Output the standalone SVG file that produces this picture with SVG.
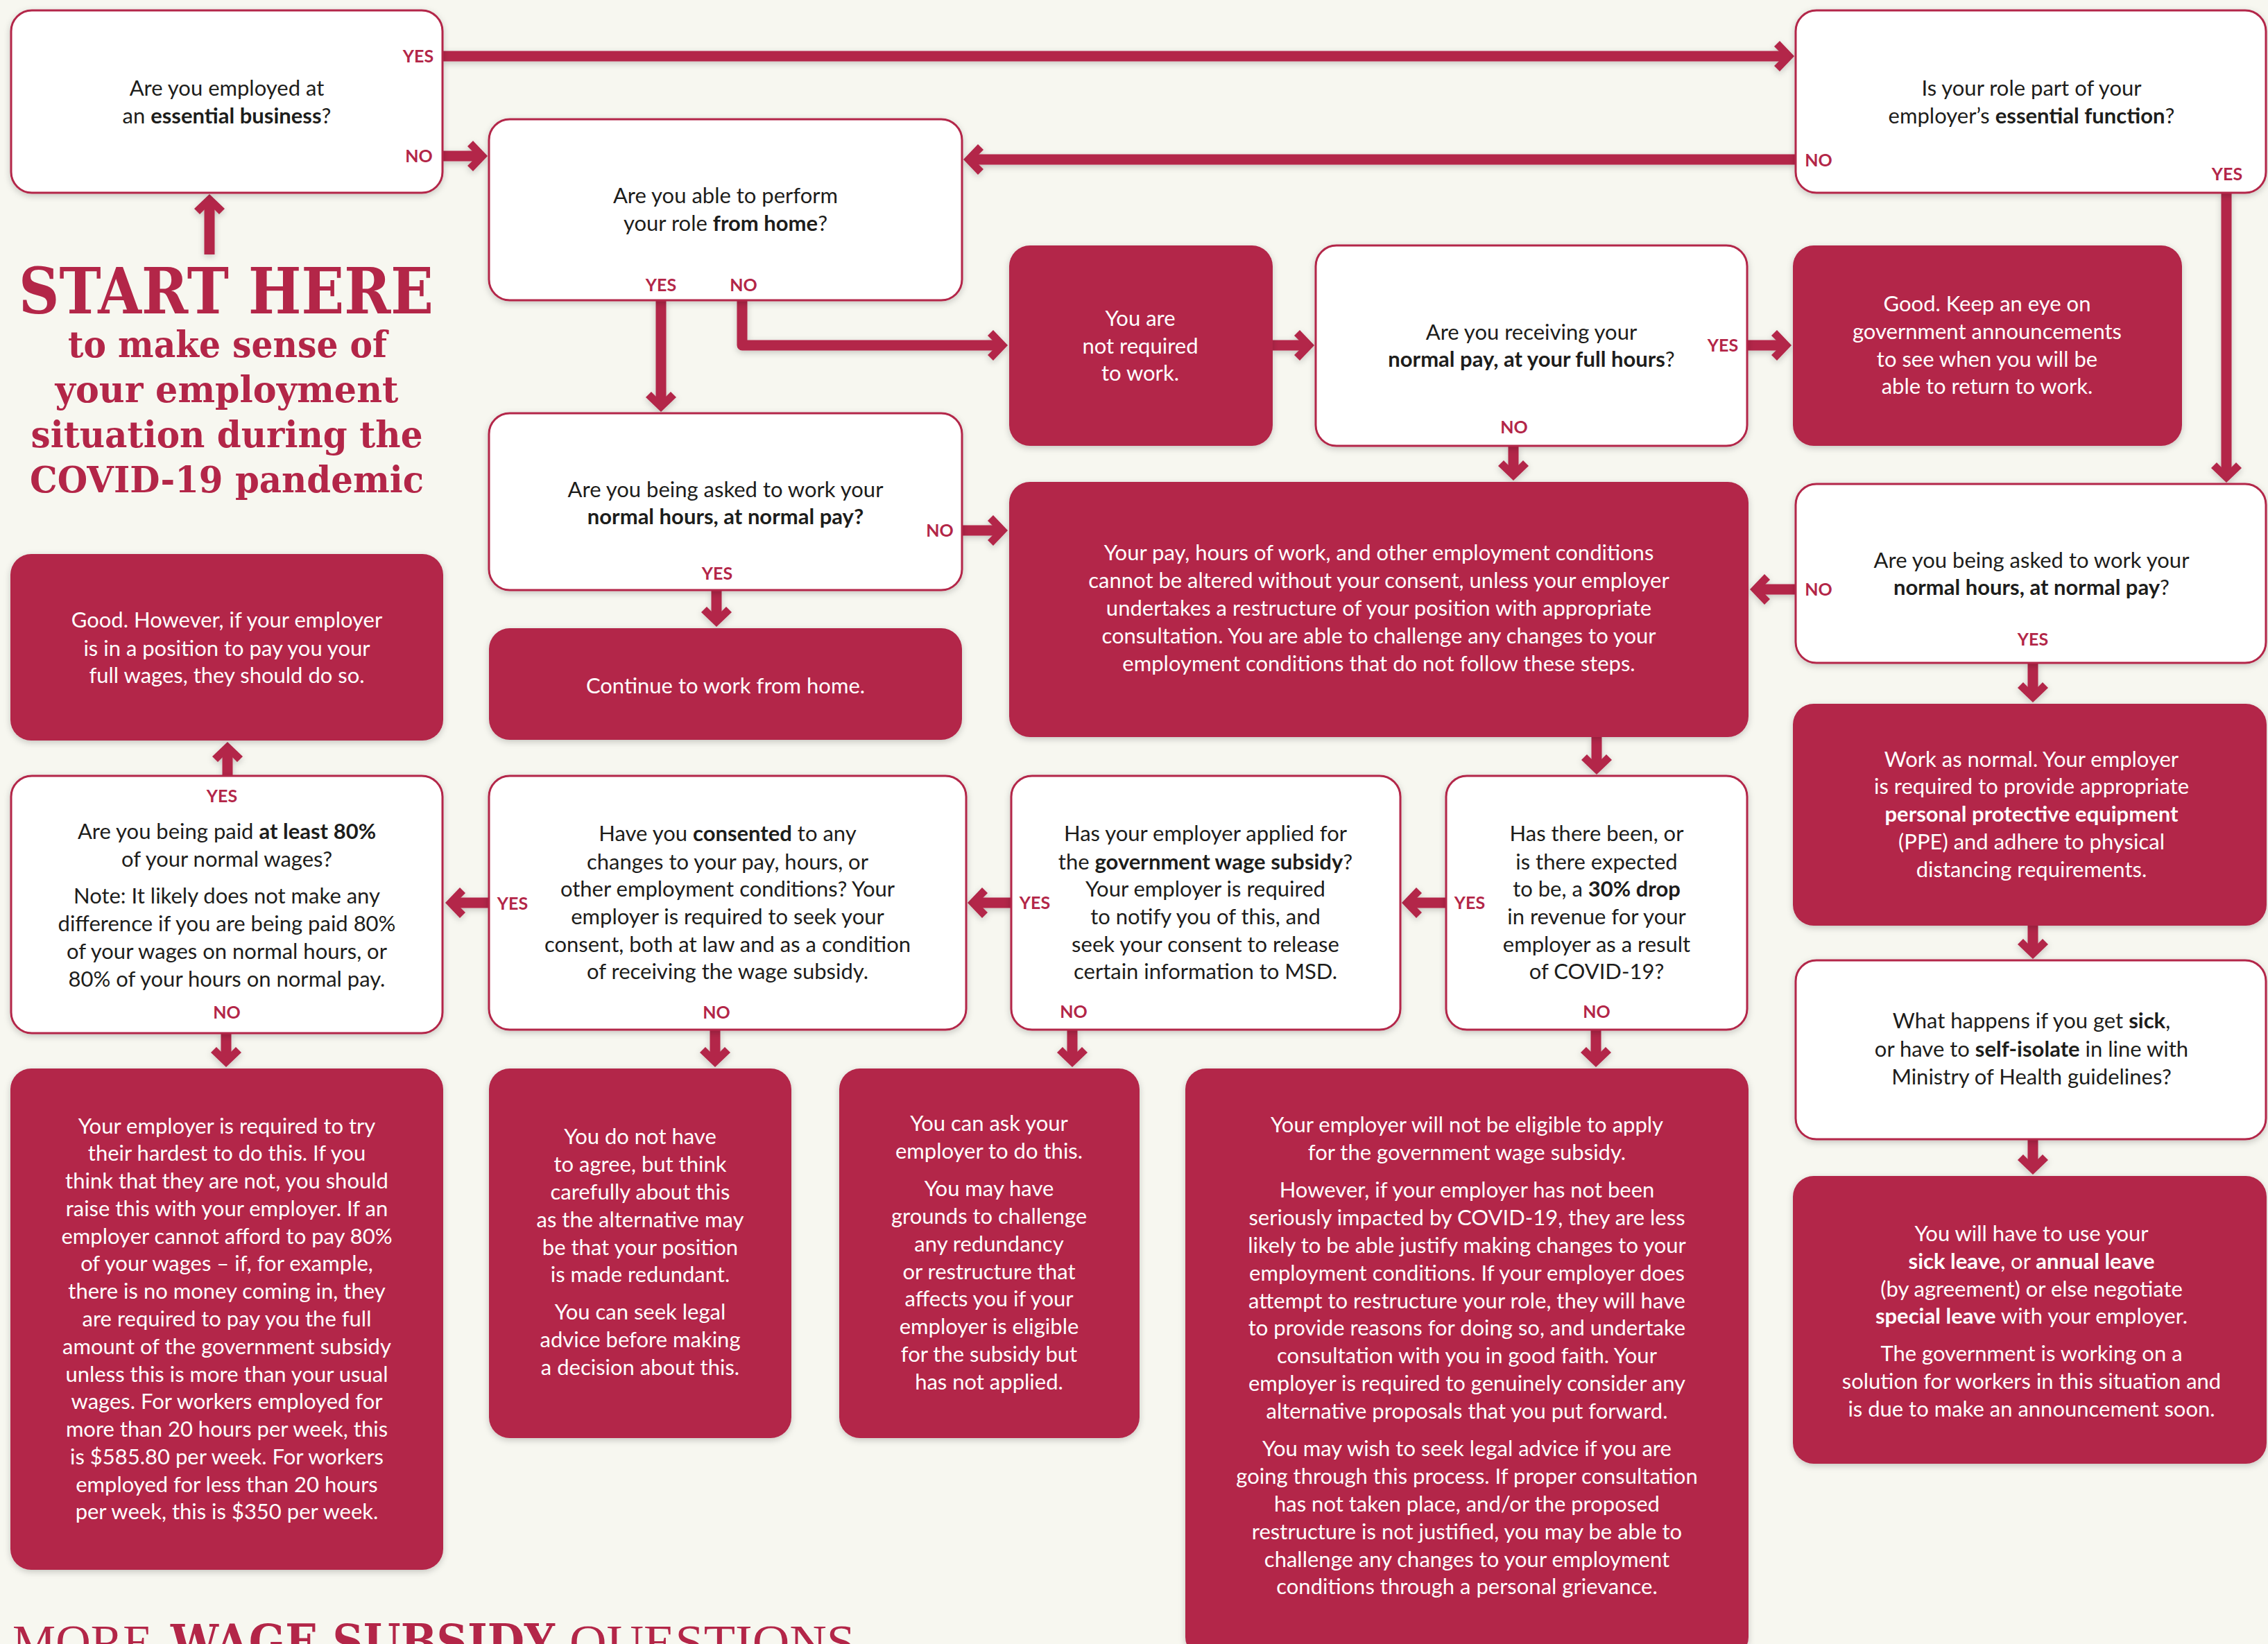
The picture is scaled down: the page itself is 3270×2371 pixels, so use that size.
<svg xmlns="http://www.w3.org/2000/svg" width="3270" height="2371" viewBox="0 0 3270 2371">
<defs>
<style>
.w{fill:#fff;stroke:#b32648;stroke-width:3}
.r{fill:#b32648}
.t{font-family:Lato,"Open Sans","Liberation Sans",sans-serif;font-size:31px;fill:#1d1d1b;text-anchor:middle}
.tw{fill:#fff}
.b{font-weight:700}
.l{font-family:Lato,"Open Sans","Liberation Sans",sans-serif;font-size:25px;font-weight:700;fill:#b32648;text-anchor:middle}
.c{fill:none;stroke:#b32648;stroke-width:15;stroke-linejoin:round;marker-end:url(#ah)}
.h{font-family:"DejaVu Serif","Liberation Serif",serif;font-weight:bold;fill:#b32648;text-anchor:middle}
</style>
<filter id="sh" x="-10%" y="-10%" width="120%" height="130%">
<feDropShadow dx="0" dy="3" stdDeviation="5" flood-color="#000" flood-opacity="0.2"/>
</filter>
<marker id="ah" markerUnits="userSpaceOnUse" viewBox="-20 -25 40 50" markerWidth="40" markerHeight="50" refX="0" refY="0" orient="auto">
<path d="M15,0 L-6,-22 L-14,-14 L0,0 L-14,14 L-6,22 Z" fill="#b32648"/>
</marker>
</defs>
<rect width="3270" height="2371" fill="#f7f7f0"/>

<g id="title">
<text class="h" x="326" y="452" font-size="92" textLength="598" lengthAdjust="spacingAndGlyphs">START HERE</text>
<text class="h" x="328" y="515" font-size="52" textLength="460" lengthAdjust="spacingAndGlyphs">to make sense of</text>
<text class="h" x="327" y="580" font-size="52" textLength="495" lengthAdjust="spacingAndGlyphs">your employment</text>
<text class="h" x="327" y="645" font-size="52" textLength="565" lengthAdjust="spacingAndGlyphs">situation during the</text>
<text class="h" x="327" y="710" font-size="52" textLength="568" lengthAdjust="spacingAndGlyphs">COVID-19 pandemic</text>
</g>

<g id="connectors" filter="url(#sh)">
<path class="c" d="M302,367 V295"/>
<path class="c" d="M638,81 H2572"/>
<path class="c" d="M638,225 H688"/>
<path class="c" d="M2589,230 H1404"/>
<path class="c" d="M3210,278 V681"/>
<path class="c" d="M953,433 V579"/>
<path class="c" d="M1070,433 V498 H1438"/>
<path class="c" d="M1835,498 H1880"/>
<path class="c" d="M2519,498 H2568"/>
<path class="c" d="M2182,643 V678"/>
<path class="c" d="M1387,765 H1438"/>
<path class="c" d="M1033,851 V889"/>
<path class="c" d="M2589,850 H2538"/>
<path class="c" d="M2931,956 V998"/>
<path class="c" d="M2931,1335 V1368"/>
<path class="c" d="M2931,1643 V1679"/>
<path class="c" d="M2302,1063 V1102"/>
<path class="c" d="M2085,1302 H2036"/>
<path class="c" d="M1458,1302 H1410"/>
<path class="c" d="M705,1302 H657"/>
<path class="c" d="M328,1119 V1085"/>
<path class="c" d="M326,1490 V1524"/>
<path class="c" d="M1031,1485 V1524"/>
<path class="c" d="M1546,1485 V1524"/>
<path class="c" d="M2301,1485 V1524"/>
</g>

<g id="n1">
<rect class="w" x="16" y="15" width="622" height="263" rx="30" filter="url(#sh)"/>
<text class="t" x="327" y="138">Are you employed at</text>
<text class="t" x="327" y="178">an <tspan class="b">essential business</tspan>?</text>
<text class="l" x="603" y="90">YES</text>
<text class="l" x="604" y="234">NO</text>
</g>

<g id="n2">
<rect class="w" x="705" y="172" width="682" height="261" rx="30" filter="url(#sh)"/>
<text class="t" x="1046" y="293">Are you able to perform</text>
<text class="t" x="1046" y="333">your role <tspan class="b">from home</tspan>?</text>
<text class="l" x="953" y="420">YES</text>
<text class="l" x="1072" y="420">NO</text>
</g>

<g id="n3">
<rect class="w" x="2589" y="15" width="678" height="263" rx="30" filter="url(#sh)"/>
<text class="t" x="2929" y="138">Is your role part of your</text>
<text class="t" x="2929" y="178">employer’s <tspan class="b">essential function</tspan>?</text>
<text class="l" x="2622" y="240">NO</text>
<text class="l" x="3211" y="260">YES</text>
</g>

<g id="n4">
<rect class="r" x="1455" y="354" width="380" height="289" rx="30" filter="url(#sh)"/>
<text class="t tw" x="1644" y="470">You are</text>
<text class="t tw" x="1644" y="510">not required</text>
<text class="t tw" x="1644" y="549">to work.</text>
</g>

<g id="n5">
<rect class="w" x="1897" y="354" width="622" height="289" rx="30" filter="url(#sh)"/>
<text class="t" x="2208" y="490">Are you receiving your</text>
<text class="t" x="2208" y="529"><tspan class="b">normal pay, at your full hours</tspan>?</text>
<text class="l" x="2484" y="507">YES</text>
<text class="l" x="2183" y="625">NO</text>
</g>

<g id="n6">
<rect class="r" x="2585" y="354" width="561" height="289" rx="30" filter="url(#sh)"/>
<text class="t tw" x="2865" y="449">Good. Keep an eye on</text>
<text class="t tw" x="2865" y="489">government announcements</text>
<text class="t tw" x="2865" y="529">to see when you will be</text>
<text class="t tw" x="2865" y="568">able to return to work.</text>
</g>

<g id="n7">
<rect class="r" x="1455" y="695" width="1066" height="368" rx="30" filter="url(#sh)"/>
<text class="t tw" x="1988" y="808">Your pay, hours of work, and other employment conditions</text>
<text class="t tw" x="1988" y="848">cannot be altered without your consent, unless your employer</text>
<text class="t tw" x="1988" y="888">undertakes a restructure of your position with appropriate</text>
<text class="t tw" x="1988" y="928">consultation. You are able to challenge any changes to your</text>
<text class="t tw" x="1988" y="968">employment conditions that do not follow these steps.</text>
</g>

<g id="n8">
<rect class="w" x="705" y="596" width="682" height="255" rx="30" filter="url(#sh)"/>
<text class="t" x="1046" y="717">Are you being asked to work your</text>
<text class="t" x="1046" y="756"><tspan class="b">normal hours, at normal pay?</tspan></text>
<text class="l" x="1034" y="836">YES</text>
<text class="l" x="1355" y="774">NO</text>
</g>

<g id="n9">
<rect class="r" x="705" y="906" width="682" height="161" rx="30" filter="url(#sh)"/>
<text class="t tw" x="1046" y="1000">Continue to work from home.</text>
</g>

<g id="n10">
<rect class="w" x="2589" y="698" width="678" height="258" rx="30" filter="url(#sh)"/>
<text class="t" x="2929" y="819">Are you being asked to work your</text>
<text class="t" x="2929" y="858"><tspan class="b">normal hours, at normal pay</tspan>?</text>
<text class="l" x="2622" y="859">NO</text>
<text class="l" x="2931" y="931">YES</text>
</g>

<g id="n11">
<rect class="r" x="2585" y="1015" width="683" height="320" rx="30" filter="url(#sh)"/>
<text class="t tw" x="2929" y="1106">Work as normal. Your employer</text>
<text class="t tw" x="2929" y="1145">is required to provide appropriate</text>
<text class="t tw b" x="2929" y="1185">personal protective equipment</text>
<text class="t tw" x="2929" y="1225">(PPE) and adhere to physical</text>
<text class="t tw" x="2929" y="1265">distancing requirements.</text>
</g>

<g id="n12">
<rect class="w" x="2589" y="1385" width="678" height="258" rx="30" filter="url(#sh)"/>
<text class="t" x="2929" y="1483">What happens if you get <tspan class="b">sick</tspan>,</text>
<text class="t" x="2929" y="1524">or have to <tspan class="b">self-isolate</tspan> in line with</text>
<text class="t" x="2929" y="1564">Ministry of Health guidelines?</text>
</g>

<g id="n13">
<rect class="r" x="2585" y="1696" width="683" height="415" rx="30" filter="url(#sh)"/>
<text class="t tw" x="2929" y="1790">You will have to use your</text>
<text class="t tw" x="2929" y="1830"><tspan class="b">sick leave</tspan>, or <tspan class="b">annual leave</tspan></text>
<text class="t tw" x="2929" y="1870">(by agreement) or else negotiate</text>
<text class="t tw" x="2929" y="1909"><tspan class="b">special leave</tspan> with your employer.</text>
<text class="t tw" x="2929" y="1963">The government is working on a</text>
<text class="t tw" x="2929" y="2003">solution for workers in this situation and</text>
<text class="t tw" x="2929" y="2043">is due to make an announcement soon.</text>
</g>

<g id="n14">
<rect class="w" x="2085" y="1119" width="434" height="366" rx="30" filter="url(#sh)"/>
<text class="t" x="2302" y="1213">Has there been, or</text>
<text class="t" x="2302" y="1254">is there expected</text>
<text class="t" x="2302" y="1293">to be, a <tspan class="b">30% drop</tspan></text>
<text class="t" x="2302" y="1333">in revenue for your</text>
<text class="t" x="2302" y="1373">employer as a result</text>
<text class="t" x="2302" y="1412">of COVID-19?</text>
<text class="l" x="2119" y="1311">YES</text>
<text class="l" x="2302" y="1468">NO</text>
</g>

<g id="n15">
<rect class="w" x="1458" y="1119" width="561" height="366" rx="30" filter="url(#sh)"/>
<text class="t" x="1738" y="1213">Has your employer applied for</text>
<text class="t" x="1738" y="1254">the <tspan class="b">government wage subsidy</tspan>?</text>
<text class="t" x="1738" y="1293">Your employer is required</text>
<text class="t" x="1738" y="1333">to notify you of this, and</text>
<text class="t" x="1738" y="1373">seek your consent to release</text>
<text class="t" x="1738" y="1412">certain information to MSD.</text>
<text class="l" x="1492" y="1311">YES</text>
<text class="l" x="1548" y="1468">NO</text>
</g>

<g id="n16">
<rect class="w" x="705" y="1119" width="688" height="366" rx="30" filter="url(#sh)"/>
<text class="t" x="1049" y="1213">Have you <tspan class="b">consented</tspan> to any</text>
<text class="t" x="1049" y="1254">changes to your pay, hours, or</text>
<text class="t" x="1049" y="1293">other employment conditions? Your</text>
<text class="t" x="1049" y="1333">employer is required to seek your</text>
<text class="t" x="1049" y="1373">consent, both at law and as a condition</text>
<text class="t" x="1049" y="1412">of receiving the wage subsidy.</text>
<text class="l" x="739" y="1312">YES</text>
<text class="l" x="1033" y="1469">NO</text>
</g>

<g id="n17">
<rect class="w" x="16" y="1119" width="622" height="371" rx="30" filter="url(#sh)"/>
<text class="l" x="320" y="1157">YES</text>
<text class="t" x="327" y="1210">Are you being paid <tspan class="b">at least 80%</tspan></text>
<text class="t" x="327" y="1250">of your normal wages?</text>
<text class="t" x="327" y="1303">Note: It likely does not make any</text>
<text class="t" x="327" y="1343">difference if you are being paid 80%</text>
<text class="t" x="327" y="1383">of your wages on normal hours, or</text>
<text class="t" x="327" y="1423">80% of your hours on normal pay.</text>
<text class="l" x="327" y="1469">NO</text>
</g>

<g id="n18">
<rect class="r" x="15" y="799" width="624" height="269" rx="30" filter="url(#sh)"/>
<text class="t tw" x="327" y="905">Good. However, if your employer</text>
<text class="t tw" x="327" y="946">is in a position to pay you your</text>
<text class="t tw" x="327" y="985">full wages, they should do so.</text>
</g>

<g id="n19">
<rect class="r" x="15" y="1541" width="624" height="723" rx="30" filter="url(#sh)"/>
<text class="t tw" x="327" y="1635">Your employer is required to try</text>
<text class="t tw" x="327" y="1674">their hardest to do this. If you</text>
<text class="t tw" x="327" y="1714">think that they are not, you should</text>
<text class="t tw" x="327" y="1754">raise this with your employer. If an</text>
<text class="t tw" x="327" y="1794">employer cannot afford to pay 80%</text>
<text class="t tw" x="327" y="1833">of your wages – if, for example,</text>
<text class="t tw" x="327" y="1873">there is no money coming in, they</text>
<text class="t tw" x="327" y="1913">are required to pay you the full</text>
<text class="t tw" x="327" y="1953">amount of the government subsidy</text>
<text class="t tw" x="327" y="1993">unless this is more than your usual</text>
<text class="t tw" x="327" y="2032">wages. For workers employed for</text>
<text class="t tw" x="327" y="2072">more than 20 hours per week, this</text>
<text class="t tw" x="327" y="2112">is $585.80 per week. For workers</text>
<text class="t tw" x="327" y="2152">employed for less than 20 hours</text>
<text class="t tw" x="327" y="2191">per week, this is $350 per week.</text>
</g>

<g id="n20">
<rect class="r" x="705" y="1541" width="436" height="533" rx="30" filter="url(#sh)"/>
<text class="t tw" x="923" y="1650">You do not have</text>
<text class="t tw" x="923" y="1690">to agree, but think</text>
<text class="t tw" x="923" y="1730">carefully about this</text>
<text class="t tw" x="923" y="1770">as the alternative may</text>
<text class="t tw" x="923" y="1810">be that your position</text>
<text class="t tw" x="923" y="1849">is made redundant.</text>
<text class="t tw" x="923" y="1903">You can seek legal</text>
<text class="t tw" x="923" y="1943">advice before making</text>
<text class="t tw" x="923" y="1983">a decision about this.</text>
</g>

<g id="n21">
<rect class="r" x="1210" y="1541" width="433" height="533" rx="30" filter="url(#sh)"/>
<text class="t tw" x="1426" y="1631">You can ask your</text>
<text class="t tw" x="1426" y="1671">employer to do this.</text>
<text class="t tw" x="1426" y="1725">You may have</text>
<text class="t tw" x="1426" y="1765">grounds to challenge</text>
<text class="t tw" x="1426" y="1805">any redundancy</text>
<text class="t tw" x="1426" y="1845">or restructure that</text>
<text class="t tw" x="1426" y="1884">affects you if your</text>
<text class="t tw" x="1426" y="1924">employer is eligible</text>
<text class="t tw" x="1426" y="1964">for the subsidy but</text>
<text class="t tw" x="1426" y="2004">has not applied.</text>
</g>

<g id="n22">
<rect class="r" x="1709" y="1541" width="812" height="850" rx="30" filter="url(#sh)"/>
<text class="t tw" x="2115" y="1633">Your employer will not be eligible to apply</text>
<text class="t tw" x="2115" y="1673">for the government wage subsidy.</text>
<text class="t tw" x="2115" y="1727">However, if your employer has not been</text>
<text class="t tw" x="2115" y="1767">seriously impacted by COVID-19, they are less</text>
<text class="t tw" x="2115" y="1807">likely to be able justify making changes to your</text>
<text class="t tw" x="2115" y="1847">employment conditions. If your employer does</text>
<text class="t tw" x="2115" y="1887">attempt to restructure your role, they will have</text>
<text class="t tw" x="2115" y="1926">to provide reasons for doing so, and undertake</text>
<text class="t tw" x="2115" y="1966">consultation with you in good faith. Your</text>
<text class="t tw" x="2115" y="2006">employer is required to genuinely consider any</text>
<text class="t tw" x="2115" y="2046">alternative proposals that you put forward.</text>
<text class="t tw" x="2115" y="2100">You may wish to seek legal advice if you are</text>
<text class="t tw" x="2115" y="2140">going through this process. If proper consultation</text>
<text class="t tw" x="2115" y="2180">has not taken place, and/or the proposed</text>
<text class="t tw" x="2115" y="2220">restructure is not justified, you may be able to</text>
<text class="t tw" x="2115" y="2260">challenge any changes to your employment</text>
<text class="t tw" x="2115" y="2299">conditions through a personal grievance.</text>
</g>

<g id="footer">
<text x="18" y="2392" font-family="'Liberation Serif','DejaVu Serif',serif" font-size="70" fill="#b32648" textLength="202" lengthAdjust="spacingAndGlyphs">MORE</text>
<text x="246" y="2392" font-family="'DejaVu Serif','Liberation Serif',serif" font-weight="bold" font-size="70" fill="#b32648" textLength="554" lengthAdjust="spacingAndGlyphs">WAGE SUBSIDY</text>
<text x="821" y="2392" font-family="'Liberation Serif','DejaVu Serif',serif" font-size="70" fill="#b32648" textLength="412" lengthAdjust="spacingAndGlyphs">QUESTIONS</text>
</g>
</svg>
